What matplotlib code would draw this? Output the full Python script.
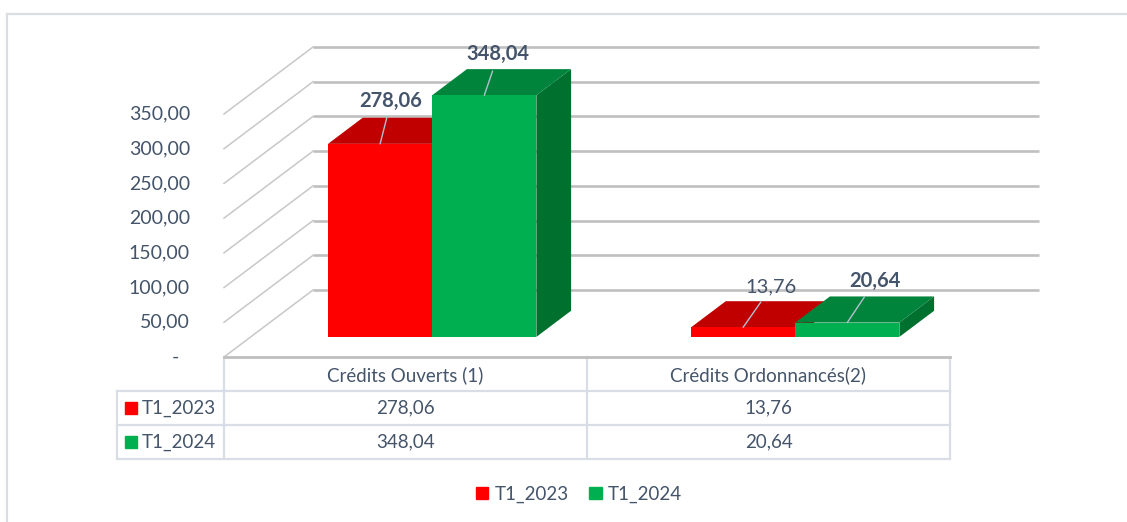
import matplotlib

matplotlib.use("Agg")
import matplotlib.pyplot as plt
from matplotlib import transforms
from matplotlib.lines import Line2D
from matplotlib.patches import Patch, Polygon
import numpy as np

# data
CATEGORIES = ["Crédits Ouverts (1)", "Crédits Ordonnancés(2)"]
SERIES = ["T1_2023", "T1_2024"]
T1_2023 = [278.06, 13.76]
T1_2024 = [348.04, 20.64]
Y_TICKS = [0, 50, 100, 150, 200, 250, 300, 350]
LABEL_BOLD = [[True, False], [True, True]]  # series x category, as in the source

# style
FRONT = ["#FF0000", "#00B050"]
TOP = ["#C00000", "#00843B"]
SIDE = ["#A00000", "#00702F"]
TEXT = "#44546A"
GRID = "#BFBFBF"
DIAG = "#C8C8C8"
TABLE_LINE = "#D9DEE6"
LEADER = "#B4C0CF"
FONT = "Lato"

W, H, DPI = 1127, 522, 100
PX_PER_CAT = 363.0           # front plane width of one category
PX_PER_UNIT = 243.0 / 350.0  # vertical pixels per value unit
DX = 89.0 / PX_PER_CAT       # depth vector of the floor, in data units
DY = 67.0 / PX_PER_UNIT
BAR_W = 0.287
F0, F1 = 0.30, 0.69          # bar front / back depth fraction
LABEL_OFFSETS = [[(11, 43), (28, 40)], [(14, 41), (28, 42)]]  # pixels

plt.rcParams["font.family"] = [FONT, "DejaVu Sans"]


def fmt(v: float) -> str:
    return "-" if v == 0 else f"{v:.2f}".replace(".", ",")


def main() -> None:
    fig = plt.figure(figsize=(W / DPI, H / DPI), dpi=DPI)

    # outer chart border (top and left only visible)
    fig.add_artist(Line2D([7 / W, 1], [1 - 14 / H] * 2, transform=fig.transFigure,
                          color="#DADDE2", lw=1.6))
    fig.add_artist(Line2D([7 / W] * 2, [0, 1 - 14 / H], transform=fig.transFigure,
                          color="#DADDE2", lw=1.6))

    ax = fig.add_axes([224 / W, 1 - 357 / H, 726 / W, 243 / H])
    ax.set_xlim(0, 2)
    ax.set_ylim(0, 350)
    ax.axis("off")

    # back wall gridlines + left wall diagonals
    for v in Y_TICKS:
        ax.plot([0, DX], [v, v + DY], color=DIAG, lw=1.1, zorder=1, clip_on=False)
        ax.plot([DX, 2 + DX], [v + DY, v + DY], color=GRID, lw=1.9, zorder=1,
                clip_on=False, solid_capstyle="butt")

    # y tick labels
    tick_tr = transforms.offset_copy(ax.get_yaxis_transform(), fig=fig, x=-34, y=0, units="dots")
    zero_tr = transforms.offset_copy(ax.get_yaxis_transform(), fig=fig, x=-45, y=0, units="dots")
    for v in Y_TICKS:
        ax.text(0, v, fmt(v), transform=zero_tr if v == 0 else tick_tr, ha="right",
                va="center", fontsize=14, color=TEXT)

    # 3D-looking columns
    cats = np.arange(len(CATEGORIES))
    for j, vals in enumerate([T1_2023, T1_2024]):
        vals = np.asarray(vals)
        x0 = cats + 0.5 - BAR_W + j * BAR_W
        x1 = x0 + BAR_W
        z = 2 + j
        ax.bar(x0 + F0 * DX, vals, width=BAR_W, bottom=F0 * DY, align="edge",
               color=FRONT[j], zorder=z + 0.2, clip_on=False, linewidth=0)
        for a, b, v in zip(x0, x1, vals):
            top = [(a + F0 * DX, v + F0 * DY), (b + F0 * DX, v + F0 * DY),
                   (b + F1 * DX, v + F1 * DY), (a + F1 * DX, v + F1 * DY)]
            side = [(b + F0 * DX, F0 * DY), (b + F0 * DX, v + F0 * DY),
                    (b + F1 * DX, v + F1 * DY), (b + F1 * DX, F1 * DY)]
            ax.add_patch(Polygon(top, closed=True, color=TOP[j], zorder=z + 0.1,
                                 clip_on=False, lw=0))
            ax.add_patch(Polygon(side, closed=True, color=SIDE[j], zorder=z,
                                 clip_on=False, lw=0))
        for i, (a, v) in enumerate(zip(x0, vals)):
            ax.annotate(fmt(v), xy=(a + BAR_W / 2 + F0 * DX, v + F0 * DY),
                        xytext=LABEL_OFFSETS[j][i], textcoords="offset pixels",
                        ha="center", va="center", fontsize=14.5, color=TEXT,
                        fontweight="bold" if LABEL_BOLD[j][i] else "normal",
                        zorder=10, annotation_clip=False,
                        arrowprops=dict(arrowstyle="-", color=LEADER, lw=1.0,
                                        shrinkA=3, shrinkB=0))

    # data table
    xl = -107 / PX_PER_CAT
    tax = fig.add_axes([117 / W, 1 - 459 / H, 833 / W, 102 / H])
    tax.set_xlim(xl, 2)
    tax.set_ylim(3, 0)
    tax.axis("off")
    for r in (1, 2, 3):
        tax.plot([xl, 2], [r, r], color=TABLE_LINE, lw=1.6, clip_on=False)
    for c in (0, 1, 2):
        tax.plot([c, c], [0, 3], color=TABLE_LINE, lw=1.6, clip_on=False)
    tax.plot([xl, xl], [1, 3], color=TABLE_LINE, lw=1.6, clip_on=False)
    tax.plot([0, 2], [0, 0], color=GRID, lw=2.0, clip_on=False)
    for i, name in enumerate(CATEGORIES):
        tax.text(i + 0.5, 0.55, name, ha="center", va="center", fontsize=13.5, color=TEXT)
    for j, (name, vals) in enumerate(zip(SERIES, [T1_2023, T1_2024])):
        tax.plot([xl + 14 / PX_PER_CAT], [j + 1.5], marker="s", ms=8.3, color=FRONT[j],
                 clip_on=False, lw=0)
        tax.text(xl + 25 / PX_PER_CAT, j + 1.5, name, ha="left", va="center",
                 fontsize=13.5, color=TEXT)
        for i, v in enumerate(vals):
            tax.text(i + 0.5, j + 1.5, fmt(v), ha="center", va="center",
                     fontsize=13.5, color=TEXT)

    # legend
    handles = [Patch(color=c) for c in FRONT]
    fig.legend(handles, SERIES, loc="center", bbox_to_anchor=(579 / W, 1 - 494 / H),
               ncol=2, frameon=False, fontsize=13.5, labelcolor=TEXT,
               handlelength=0.65, handleheight=0.65, handletextpad=0.35,
               columnspacing=1.1, borderpad=0)

    fig.savefig("out.png", dpi=DPI)
    plt.close(fig)


if __name__ == "__main__":
    main()
